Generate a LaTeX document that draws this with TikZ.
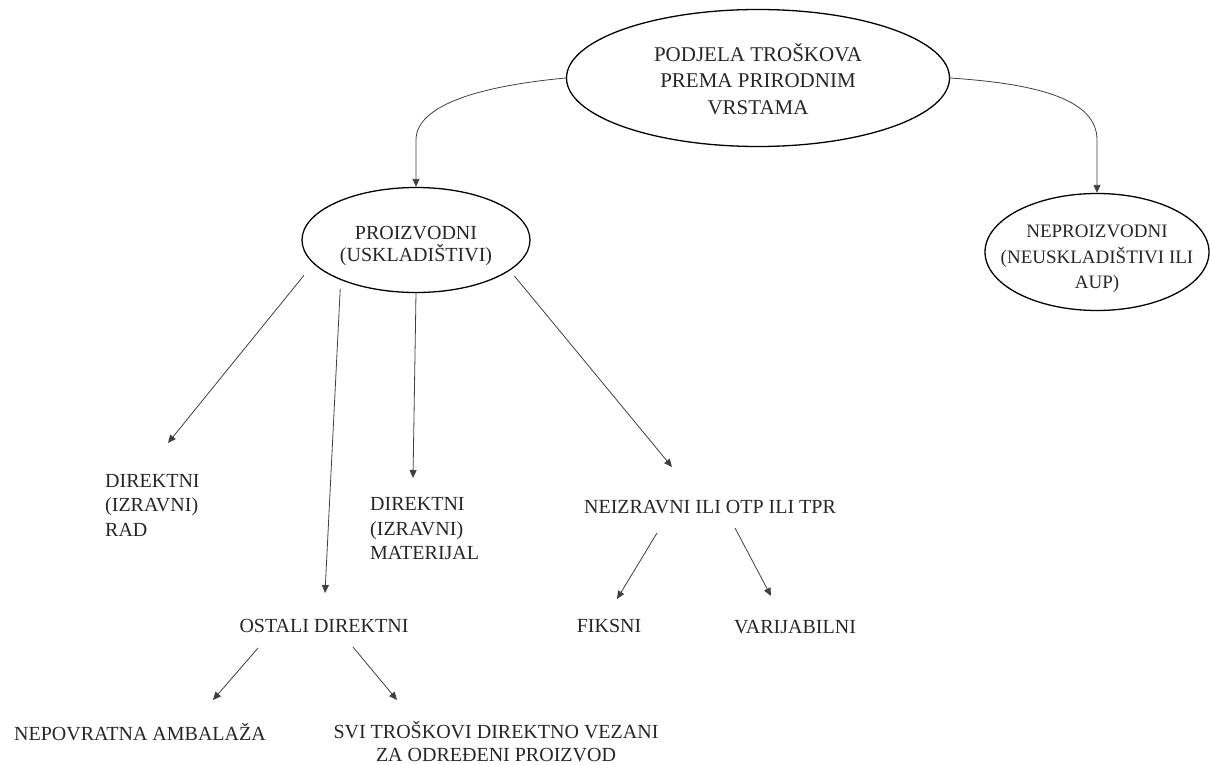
\documentclass[tikz,border=0pt]{standalone}
\usepackage{fontspec}
\setmainfont{Liberation Serif}
\usetikzlibrary{shapes.geometric,arrows.meta}
\begin{document}
\begin{tikzpicture}[x=1pt,y=-1pt,
  ell/.style={ellipse,draw=black,line width=1.3pt,inner sep=0pt},
  lbl/.style={inner sep=0pt,text=black!85,font=\fontsize{20}{24.5}\selectfont},
  conn/.style={draw=black!75,line width=0.8pt,-{Triangle[length=8pt,width=7pt]}}]
\useasboundingbox (0,0) rectangle (1210,765);
% ellipses
\node[ell,minimum width=383pt,minimum height=137pt] (top) at (758,78) {};
\node[lbl,align=center,font=\fontsize{21}{26.5}\selectfont] (toptxt) at (758,79) {PODJELA TROŠKOVA\\PREMA PRIRODNIM\\VRSTAMA};
\node[ell,minimum width=228pt,minimum height=105pt] (pro) at (416,240) {};
\node[lbl,align=center,font=\fontsize{20}{21.5}\selectfont] (protxt) at (416,246) {PROIZVODNI\\(USKLADIŠTIVI)};
\node[ell,minimum width=224pt,minimum height=117pt] (nep) at (1097,252) {};
\node[lbl,align=center,font=\fontsize{19}{25.5}\selectfont] (neptxt) at (1097,259) {NEPROIZVODNI\\(NEUSKLADIŠTIVI ILI\\AUP)};
% text nodes
\node[lbl,align=left,anchor=west] (rad) at (105,505) {DIREKTNI\\(IZRAVNI)\\RAD};
\node[lbl,align=left,anchor=west] (mat) at (370,529) {DIREKTNI\\(IZRAVNI)\\MATERIJAL};
\node[lbl] (neiz) at (710,507) {NEIZRAVNI ILI OTP ILI TPR};
\node[lbl] (ost) at (324,626) {OSTALI DIREKTNI};
\node[lbl] (fik) at (609,626) {FIKSNI};
\node[lbl] (var) at (795,627) {VARIJABILNI};
\node[lbl] (amb) at (140,732) {NEPOVRATNA AMBALAŽA};
\node[lbl,align=center,font=\fontsize{20}{23}\selectfont] (svi) at (496,742) {SVI TROŠKOVI DIREKTNO VEZANI\\ZA ODREĐENI PROIZVOD};
% arrow tips and free ends
\coordinate (radT) at (168,443);
\coordinate (ostT) at (325,593);
\coordinate (matT) at (413,478);
\coordinate (neizT) at (672,467);
\coordinate (neizL) at (657,533);
\coordinate (neizR) at (735,528);
\coordinate (fikT) at (617,599);
\coordinate (varT) at (771,596);
\coordinate (ostL) at (258,648);
\coordinate (ostR) at (353,647);
\coordinate (ambT) at (213,700);
\coordinate (sviT) at (397,700);
% connectors
\draw[conn] (top.west) .. controls (480,86) and (416,105) .. (416,140) -- (pro.north);
\draw[conn] (top.east) .. controls (1040,84) and (1097,100) .. (1097,140) -- (nep.north);
\draw[conn,shorten <=15pt] (pro.193.6) -- (radT);
\draw[conn,shorten <=9pt] (pro.208.5) -- (ostT);
\draw[conn] (pro.south) -- (matT);
\draw[conn,shorten <=7pt] (pro.342.4) -- (neizT);
\draw[conn] (neizL) -- (fikT);
\draw[conn] (neizR) -- (varT);
\draw[conn] (ostL) -- (ambT);
\draw[conn] (ostR) -- (sviT);
\end{tikzpicture}
\end{document}
